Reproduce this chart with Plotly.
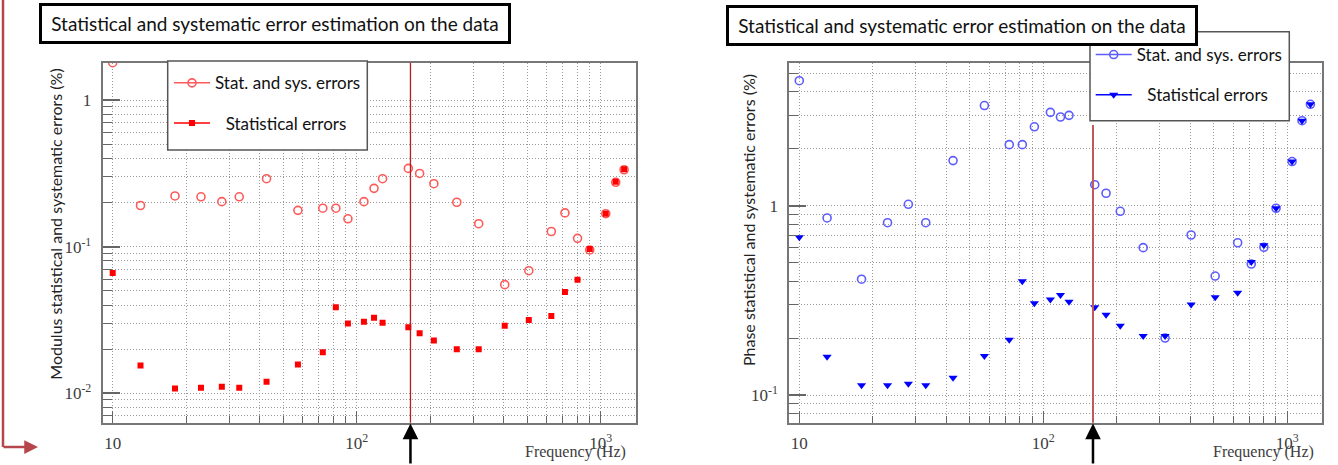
import math
import plotly.graph_objects as go

# ---------------- data ----------------
freq_hz = [10, 13, 18, 23, 28, 33, 42.7, 57.4, 72.6, 82.1, 92, 107, 117.7, 127.6,
           162.7, 181, 207, 257, 316, 404, 507, 627, 713, 803, 901, 1048, 1151, 1246]

modulus_stat_sys = [1.80, 0.191, 0.222, 0.219, 0.203, 0.219, 0.291, 0.177, 0.183, 0.183,
                    0.155, 0.203, 0.250, 0.291, 0.342, 0.316, 0.269, 0.201, 0.1435, 0.0551,
                    0.0686, 0.127, 0.170, 0.114, 0.095, 0.168, 0.275, 0.335]
modulus_stat = [0.0662, 0.01545, 0.01076, 0.01093, 0.0111, 0.01093, 0.01197, 0.0157, 0.01906,
                0.0386, 0.0299, 0.0308, 0.0328, 0.0303, 0.0282, 0.0257, 0.0229, 0.0200, 0.0200,
                0.0289, 0.0316, 0.0337, 0.0491, 0.0596, 0.0964, 0.168, 0.277, 0.338]

phase_stat_sys = [4.57, 0.861, 0.409, 0.813, 1.017, 0.813, 1.73, 3.38, 2.10, 2.10, 2.61,
                  3.11, 2.94, 3.00, 1.29, 1.163, 0.934, 0.600, 0.200, 0.700, 0.425, 0.637,
                  0.492, 0.603, 0.969, 1.71, 2.81, 3.43]
phase_stat = [0.681, 0.159, 0.1125, 0.1125, 0.1148, 0.1125, 0.1234, 0.1607, 0.196, 0.399,
              0.305, 0.319, 0.337, 0.311, 0.291, 0.265, 0.232, 0.205, 0.205, 0.301, 0.328,
              0.347, 0.504, 0.618, 0.969, 1.71, 2.81, 3.43]

marker_freq_left = 166
marker_freq_right = 160

title_text = "Statistical and systematic error estimation on the data"
legend_total = "Stat. and sys. errors"
legend_stat = "Statistical errors"
ylabel_left = "Modulus statistical and systematic errors (%)"
ylabel_right = "Phase statistical and systematic errors (%)"
xlabel = "Frequency (Hz)"

x_major = [10, 100, 1000]
x_major_text = ["10", "10<sup>2</sup>", "10<sup>3</sup>"]
x_minor = [20, 30, 40, 50, 60, 70, 80, 90, 200, 300, 400, 500, 600, 700, 800, 900]
yl_major = [0.01, 0.1, 1]
yl_major_text = ["10<sup>-2</sup>", "10<sup>-1</sup>", "1"]
yl_minor = [0.007, 0.008, 0.009, 0.02, 0.03, 0.04, 0.05, 0.06, 0.07, 0.08, 0.09,
            0.2, 0.3, 0.4, 0.5, 0.6, 0.7, 0.8, 0.9]
yr_major = [0.1, 1]
yr_major_text = ["10<sup>-1</sup>", "1"]
yr_minor = [0.08, 0.09, 0.2, 0.3, 0.4, 0.5, 0.6, 0.7, 0.8, 0.9, 2, 3, 4, 5]

# ---------------- layout helpers ----------------
W, H = 1338, 465
def px(p):
    return p / W
def py(p):
    return 1 - p / H

FRAME_TOP, FRAME_BOT = 62.7, 422.7
GRID = "#9a9a9a"
GRIDDASH = "1px,2px"
SERIF = "Liberation Serif, Times New Roman, serif"
TICKFONT = dict(family=SERIF, size=17, color="#3c3c3c")
SANS = "Lato, Open Sans, sans-serif"

fig = go.Figure()

# left plot
fig.add_trace(go.Scatter(x=freq_hz, y=modulus_stat_sys, mode="markers", showlegend=False,
                         marker=dict(symbol="circle-open", size=8, color="#ff5a5a",
                                     line=dict(width=1.6, color="#ff5a5a")),
                         xaxis="x", yaxis="y"))
fig.add_trace(go.Scatter(x=freq_hz, y=modulus_stat, mode="markers", showlegend=False,
                         marker=dict(symbol="square", size=6, color="#ff0000"),
                         xaxis="x", yaxis="y"))
# right plot
fig.add_trace(go.Scatter(x=freq_hz, y=phase_stat_sys, mode="markers", showlegend=False,
                         marker=dict(symbol="circle-open", size=8, color="#5c5cff",
                                     line=dict(width=1.6, color="#5c5cff")),
                         xaxis="x2", yaxis="y2"))
fig.add_trace(go.Scatter(x=freq_hz, y=phase_stat, mode="markers", showlegend=False,
                         marker=dict(symbol="triangle-down", size=8, color="#0000ff"),
                         xaxis="x2", yaxis="y2"))

# legend entries (line + marker as in ROOT "lp" entries)
STAT_PREFIX = "\u2002\u2009"
fig.add_trace(go.Scatter(x=[None], y=[None], mode="lines+markers", name=legend_total,
                         legend="legend", legendgroup="a",
                         line=dict(color="#ff5a5a", width=1.5),
                         marker=dict(symbol="circle-open", size=8, color="#ff5a5a",
                                     line=dict(width=1.6, color="#ff5a5a")),
                         xaxis="x", yaxis="y"))
fig.add_trace(go.Scatter(x=[None], y=[None], mode="lines+markers",
                         name=STAT_PREFIX + legend_stat,
                         legend="legend", legendgroup="b",
                         line=dict(color="#ff0000", width=1.5),
                         marker=dict(symbol="square", size=6, color="#ff0000"),
                         xaxis="x", yaxis="y"))
fig.add_trace(go.Scatter(x=[None], y=[None], mode="lines+markers", name=legend_total,
                         legend="legend2", legendgroup="c",
                         line=dict(color="#5c5cff", width=1.5),
                         marker=dict(symbol="circle-open", size=8, color="#5c5cff",
                                     line=dict(width=1.6, color="#5c5cff")),
                         xaxis="x2", yaxis="y2"))
fig.add_trace(go.Scatter(x=[None], y=[None], mode="lines+markers",
                         name=STAT_PREFIX + legend_stat,
                         legend="legend2", legendgroup="d",
                         line=dict(color="#0000ff", width=1.5),
                         marker=dict(symbol="triangle-down", size=8, color="#0000ff"),
                         xaxis="x2", yaxis="y2"))


def xaxis_cfg(domain, anchor):
    return dict(type="log", domain=domain, anchor=anchor, automargin=False,
                range=[math.log10(9.1), math.log10(1390)],
                tickmode="array", tickvals=x_major, ticktext=x_major_text,
                ticks="inside", ticklen=12, tickwidth=1.2, tickcolor="#666",
                tickfont=TICKFONT, ticklabelstandoff=4,
                showgrid=True, gridcolor=GRID, griddash=GRIDDASH, gridwidth=1,
                minor=dict(tickvals=x_minor, ticks="inside", ticklen=7, tickcolor="#666",
                           tickwidth=1, showgrid=True, gridcolor=GRID, griddash=GRIDDASH,
                           gridwidth=1),
                showline=True, linecolor="#777", linewidth=2, mirror=True,
                zeroline=False, fixedrange=True)


def yaxis_cfg(domain, rng, major, major_text, minor, anchor):
    return dict(type="log", domain=domain, anchor=anchor, automargin=False,
                range=[math.log10(rng[0]), math.log10(rng[1])],
                tickmode="array", tickvals=major, ticktext=major_text,
                ticks="inside", ticklen=17, tickwidth=1.5, tickcolor="#666",
                tickfont=TICKFONT, ticklabelstandoff=6,
                showgrid=True, gridcolor=GRID, griddash=GRIDDASH, gridwidth=1,
                minor=dict(tickvals=minor, ticks="inside", ticklen=9, tickcolor="#666",
                           tickwidth=1.2, showgrid=True, gridcolor=GRID, griddash=GRIDDASH,
                           gridwidth=1),
                showline=True, linecolor="#777", linewidth=2, mirror=True,
                zeroline=False, fixedrange=True)


ydom = [py(FRAME_BOT), py(FRAME_TOP)]
legend_common = dict(bgcolor="rgba(0,0,0,0)", borderwidth=0,
                     font=dict(family=SANS, size=17, color="#111"),
                     xanchor="left", yanchor="top", traceorder="grouped",
                     tracegroupgap=15, itemwidth=36)

fig.update_layout(
    width=W, height=H,
    margin=dict(l=0, r=0, t=0, b=0, autoexpand=False),
    paper_bgcolor="white", plot_bgcolor="white",
    xaxis=xaxis_cfg([px(102.7), px(635.7)], "y"),
    yaxis=yaxis_cfg(ydom, (0.0063, 1.80), yl_major, yl_major_text, yl_minor, "x"),
    xaxis2=xaxis_cfg([px(789.3), px(1322)], "y2"),
    yaxis2=yaxis_cfg(ydom, (0.0714, 5.69), yr_major, yr_major_text, yr_minor, "x2"),
    legend=dict(legend_common, x=px(169), y=py(65.3)),
    legend2=dict(legend_common, x=px(1090.7), y=py(37)),
)

# legend frames
fig.add_shape(type="rect", xref="paper", yref="paper", layer="above",
              x0=px(167.7), x1=px(367.3), y0=py(150), y1=py(61),
              line=dict(color="#555", width=1.5), fillcolor="white")
fig.add_shape(type="rect", xref="paper", yref="paper", layer="above",
              x0=px(1090), x1=px(1289.3), y0=py(120.7), y1=py(31.7),
              line=dict(color="#555", width=1.5), fillcolor="white")

# vertical reference lines
fig.add_shape(type="line", xref="x", yref="y domain", x0=marker_freq_left, x1=marker_freq_left,
              y0=0, y1=1, line=dict(color="#b01f1f", width=1.3))
fig.add_shape(type="line", xref="x2", yref="y2 domain", x0=marker_freq_right, x1=marker_freq_right,
              y0=0, y1=(FRAME_BOT - 125) / (FRAME_BOT - FRAME_TOP),
              line=dict(color="#c05a5a", width=2))

# red slide bracket at left edge
fig.add_shape(type="line", xref="paper", yref="paper", x0=px(3), x1=px(3), y0=py(0), y1=py(447),
              line=dict(color="#b5474b", width=2.5))

annotations = []
# title boxes
for cx, cy in [(274.6, 23.8), (961.9, 25.3)]:
    annotations.append(dict(text=title_text, xref="paper", yref="paper", x=px(cx), y=py(cy),
                            xanchor="center", yanchor="middle", showarrow=False,
                            font=dict(family=SANS, size=19, color="#111"),
                            bgcolor="white", bordercolor="black", borderwidth=3, borderpad=0,
                            width=466, height=35))
# y titles
annotations.append(dict(text=ylabel_left, xref="paper", yref="paper", x=px(55.5), y=py(66.7),
                        xanchor="center", yanchor="top", textangle=-90, showarrow=False,
                        font=dict(family=SANS, size=16, color="#222")))
annotations.append(dict(text=ylabel_right, xref="paper", yref="paper", x=px(748.3), y=py(71.7),
                        xanchor="center", yanchor="top", textangle=-90, showarrow=False,
                        font=dict(family=SANS, size=16, color="#222")))
# x titles
for rx in [628.3, 1315.7]:
    annotations.append(dict(text=xlabel, xref="paper", yref="paper", x=px(rx), y=py(451.7),
                            xanchor="right", yanchor="middle", showarrow=False,
                            font=dict(family=SERIF, size=16, color="#3c3c3c")))
# black arrows under the frequency markers
for ax_name, f in [("x", marker_freq_left), ("x2", marker_freq_right)]:
    annotations.append(dict(text="", xref=ax_name, yref="paper", x=math.log10(f), y=py(423.5),
                            showarrow=True, arrowhead=2, arrowsize=1.25, arrowwidth=2.5,
                            arrowcolor="black", ax=0, ay=44, standoff=0))
# red arrow at left
annotations.append(dict(text="", xref="paper", yref="paper", x=px(38), y=py(447),
                        showarrow=True, arrowhead=2, arrowsize=1.1, arrowwidth=2.5,
                        arrowcolor="#b5474b", ax=-36, ay=0, standoff=0))
fig.update_layout(annotations=annotations)

fig.write_html("out.html",
               config={"displayModeBar": False},
               post_script="document.body.style.margin='0px';"
                           "document.body.style.padding='0px';"
                           "document.body.style.overflow='hidden';")
